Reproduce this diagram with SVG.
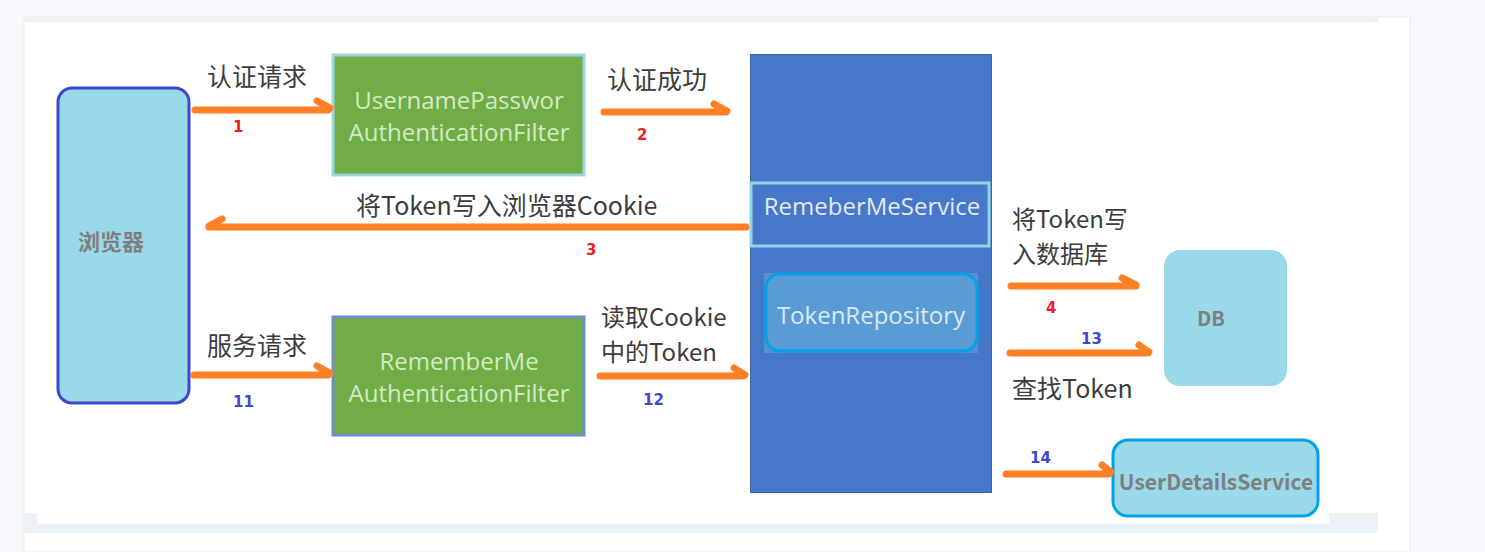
<svg xmlns="http://www.w3.org/2000/svg" width="1485" height="552" viewBox="0 0 1485 552">
<style>
.cn{font-family:"Noto Sans CJK SC","Noto Sans",sans-serif;font-size:25px;fill:#3c3c3c}
.cn2{font-family:"Noto Sans CJK SC","Noto Sans",sans-serif;font-size:24px;fill:#3c3c3c}
.box{font-family:"Open Sans","Noto Sans",sans-serif;font-size:24px;text-anchor:middle}
.num{font-family:"DejaVu Sans",sans-serif;font-weight:bold;font-size:15px}
.red{fill:#ed1c24}
.blu{fill:#3f48cc}
.gray{font-family:"Noto Sans CJK SC","Noto Sans",sans-serif;font-weight:bold;fill:#7f7f7f;text-anchor:middle}
.arr{fill:none;stroke:#ff7f27;stroke-width:7;stroke-linecap:round;stroke-linejoin:round}
</style>
<!-- page background -->
<rect x="0" y="0" width="1485" height="552" fill="#f8f9fc"/>
<rect x="24" y="17" width="1386" height="535" fill="#ffffff" stroke="#ececf0" stroke-width="1"/>
<rect x="24" y="17" width="1354" height="5" fill="#edf2f8"/>
<rect x="24" y="524" width="1354" height="9" fill="#edf2f8"/>
<rect x="24" y="513" width="13" height="11" fill="#edf2f8"/>
<rect x="1329" y="513" width="49" height="11" fill="#edf2f8"/>

<g id="browser">
<rect x="58" y="88" width="131" height="315" rx="14" fill="#99d9ea" stroke="#3f48cc" stroke-width="3"/>
<text class="gray" x="111" y="250" font-size="22">浏览器</text>
</g>

<g id="usernamePasswordFilter">
<rect x="333" y="55" width="251" height="120" fill="#70ad47" stroke="#9dd5e6" stroke-width="3"/>
<text class="box" x="459" y="109" fill="#d3ebc3">UsernamePasswor<tspan x="459" dy="32">AuthenticationFilter</tspan></text>
</g>

<g id="rememberMeFilter">
<rect x="333" y="317" width="251" height="118" fill="#70ad47" stroke="#6f8fc4" stroke-width="3"/>
<text class="box" x="459" y="370" fill="#d3ebc3">RememberMe<tspan x="459" dy="32">AuthenticationFilter</tspan></text>
</g>

<g id="rememberMeServiceContainer">
<rect x="750.5" y="54.5" width="241" height="438" fill="#4677c8" stroke="#3a62a8" stroke-width="1"/>
</g>

<g id="rememberMeService">
<rect x="751" y="183" width="238" height="63" fill="#4677c8" stroke="#8fd3e8" stroke-width="3"/>
<text class="box" x="872" y="215" fill="#e2ebf7" font-size="25">RemeberMeService</text>
</g>

<g id="tokenRepository">
<rect x="764" y="273" width="214" height="80" fill="#5590d0"/>
<rect x="766" y="274" width="211" height="77" rx="14" fill="#5b9bd5" stroke="#00a2e8" stroke-width="3"/>
<text class="box" x="871" y="324" fill="#dbe8f6">TokenRepository</text>
</g>

<g id="db">
<rect x="1164" y="250" width="123" height="136" rx="16" fill="#99d9ea"/>
<text class="gray" x="1211" y="326" font-size="20">DB</text>
</g>

<g id="userDetailsService">
<rect x="1113" y="440" width="205" height="76" rx="15" fill="#99d9ea" stroke="#00a2e8" stroke-width="3"/>
<text class="gray" x="1216" y="490" font-size="21">UserDetailsService</text>
</g>

<g id="connectors">
<path class="arr" d="M195,110 H328 M317,101 L330,108"/>
<path class="arr" d="M604,112 H726 M714,104 L727,111"/>
<path class="arr" d="M746,227 H209 M222,219 L209,226"/>
<path class="arr" d="M1011,286 H1136 M1122,278 L1136,285"/>
<path class="arr" d="M1010,353 H1148 M1139,345 L1149,352"/>
<path class="arr" d="M1006,474 H1109 M1102,465 L1111,472"/>
<path class="arr" d="M194,375 H328 M317,366 L330,373"/>
<path class="arr" d="M600,376 H743 M734,368 L745,375"/>
</g>

<g id="labels">
<text class="cn" x="207" y="86">认证请求</text>
<text class="cn" x="607" y="89">认证成功</text>
<text class="cn" x="356" y="215">将Token写入浏览器Cookie</text>
<text class="cn" x="207" y="355">服务请求</text>
<text class="cn2" x="601" y="326">读取Cookie<tspan x="601" dy="35">中的Token</tspan></text>
<text class="cn2" x="1012" y="228">将Token写<tspan x="1012" dy="35">入数据库</tspan></text>
<text class="cn" x="1012" y="398">查找Token</text>
<text class="num red" x="233" y="132">1</text>
<text class="num red" x="637" y="140">2</text>
<text class="num red" x="586" y="255">3</text>
<text class="num red" x="1046" y="313">4</text>
<text class="num blu" x="1081" y="344">13</text>
<text class="num blu" x="233" y="407">11</text>
<text class="num blu" x="643" y="405">12</text>
<text class="num blu" x="1030" y="463">14</text>
</g>
</svg>
